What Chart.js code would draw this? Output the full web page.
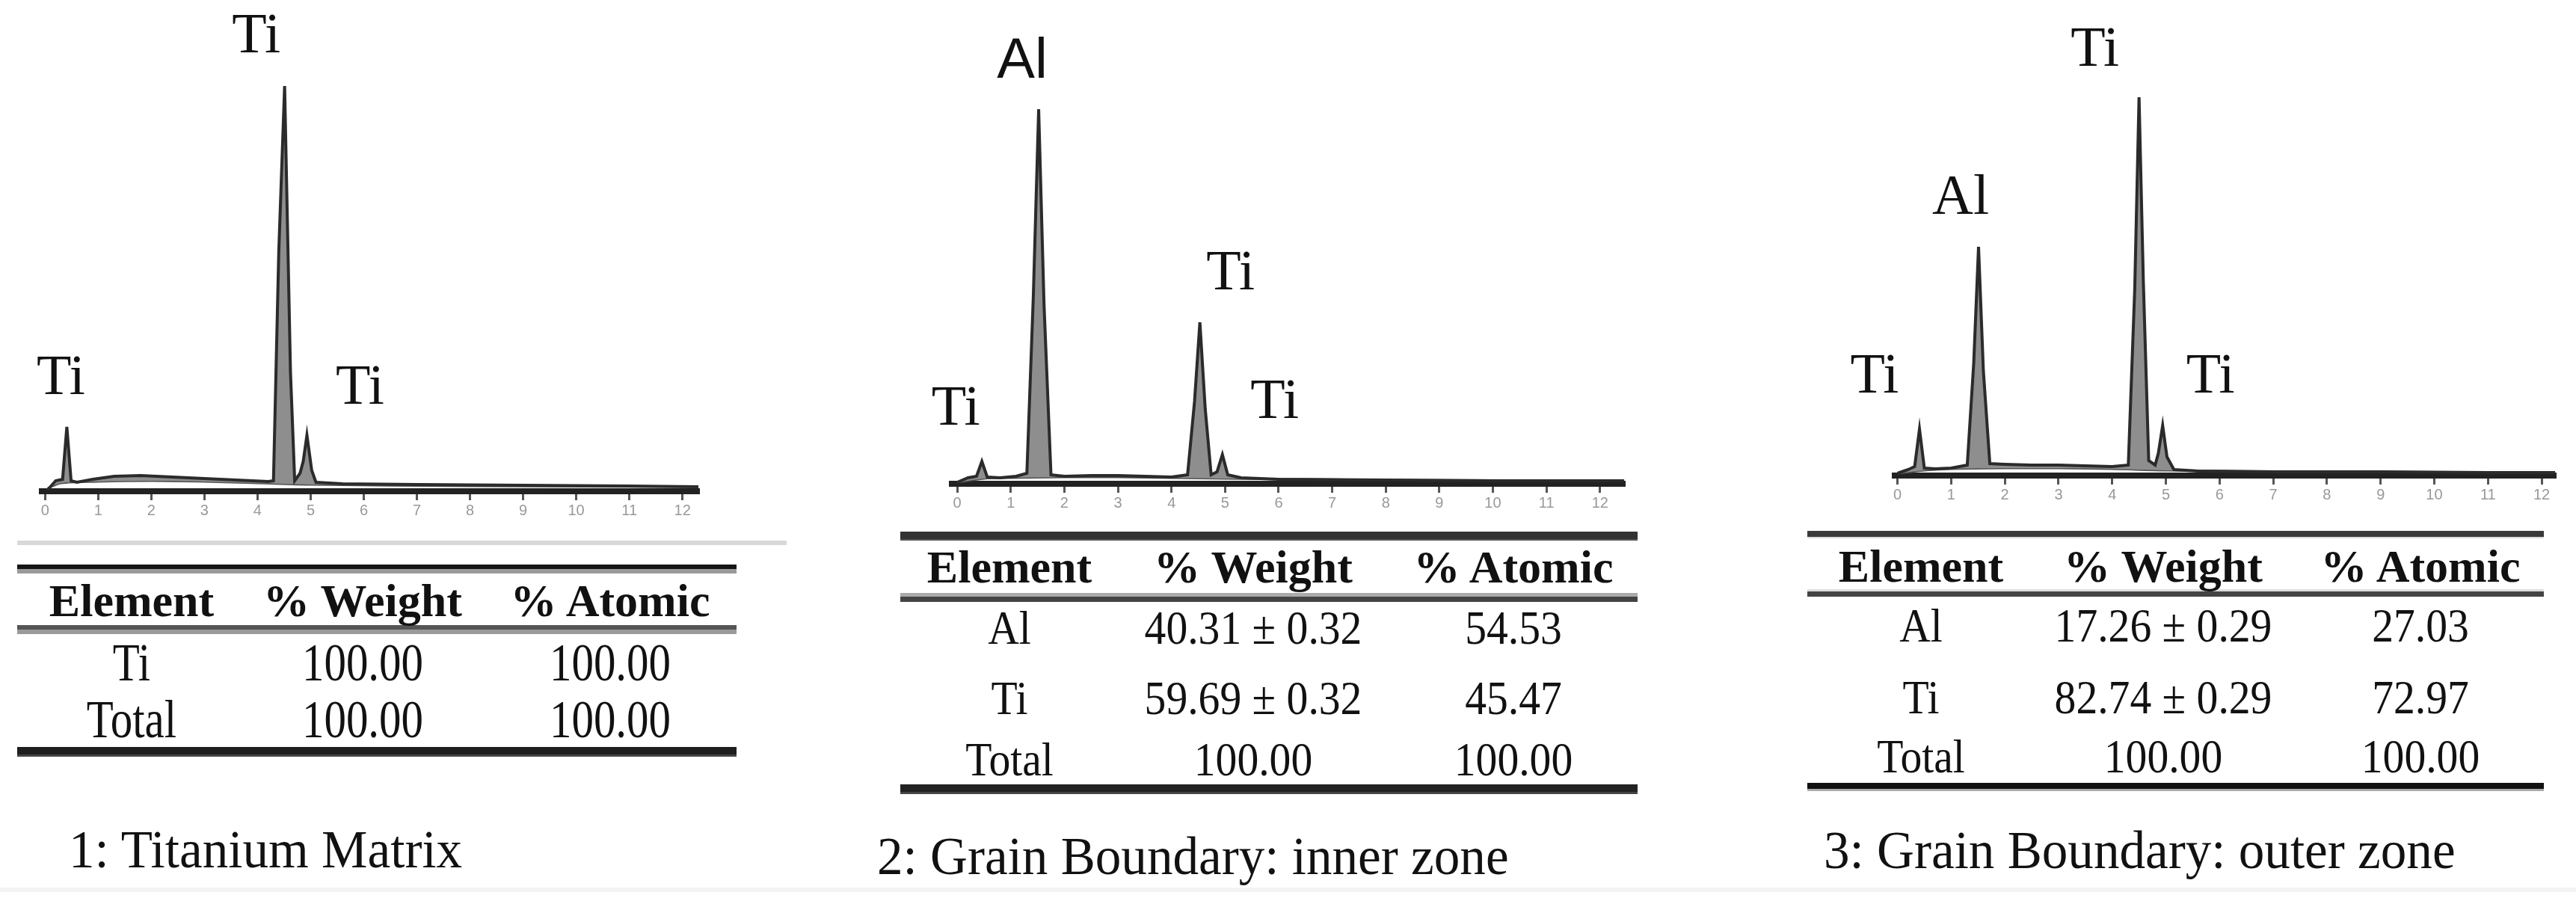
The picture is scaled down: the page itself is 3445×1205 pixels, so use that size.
<!DOCTYPE html>
<html>
<head>
<meta charset="utf-8">
<script src="https://cdn.jsdelivr.net/npm/chart.js@4.4.1/dist/chart.umd.min.js"></script>
<style>
  html, body { margin: 0; padding: 0; background: #fff; }
  #page { position: relative; width: 3445px; height: 1205px; overflow: hidden; background: #fff;
          font-family: 'Liberation Serif', 'Times New Roman', serif; color: #111; }
  canvas { position: absolute; top: 0; }
  .rule { position: absolute; }
  .txt { position: absolute; white-space: nowrap; }
</style>
</head>
<body>
<div id="page">
  <canvas id="spec1"></canvas>
  <canvas id="spec2"></canvas>
  <canvas id="spec3"></canvas>
</div>
<script>
const energyTicks = [0, 1, 2, 3, 4, 5, 6, 7, 8, 9, 10, 11, 12];

const energy1 = [0.05, 0.2, 0.33, 0.41, 0.49, 0.6, 0.9, 1.3, 1.8, 2.4, 3.0, 3.6, 4.2, 4.3, 4.40, 4.51, 4.62, 4.7, 4.8, 4.86, 4.93, 5.02, 5.1, 5.6, 7, 9, 11, 12.3];
const counts1 = [2, 14, 16, 86, 14, 12, 16, 20, 21, 19, 17, 15, 13, 14, 320, 542, 160, 14, 24, 40, 75, 28, 12, 10, 9, 8, 7, 6];
const bkgEnergy1 = [0.05, 0.3, 1.0, 2.0, 3.0, 4.0, 5.0, 8.0, 12.3];
const bkgCounts1 = [4, 11, 13, 14, 13, 11, 9, 7, 6];

const energy2 = [0.0, 0.2, 0.36, 0.46, 0.56, 0.8, 1.1, 1.3, 1.42, 1.52, 1.62, 1.75, 2.0, 2.5, 3.0, 3.5, 4.0, 4.3, 4.43, 4.53, 4.63, 4.74, 4.85, 4.95, 5.05, 5.3, 6, 8, 10, 12.45];
const counts2 = [2, 8, 10, 30, 9, 8, 10, 14, 250, 501, 240, 12, 10, 11, 11, 10, 9, 12, 110, 216, 100, 12, 16, 39, 12, 8, 6, 5, 4, 4];
const bkgEnergy2 = [0.0, 0.5, 1.0, 2.0, 3.0, 4.0, 5.0, 8.0, 12.45];
const bkgCounts2 = [2, 7, 8, 9, 9, 8, 7, 5, 4];

const energy3 = [0.0, 0.2, 0.32, 0.41, 0.5, 0.7, 1.0, 1.3, 1.42, 1.51, 1.6, 1.72, 2.0, 2.5, 3.0, 3.5, 4.0, 4.3, 4.42, 4.5, 4.58, 4.68, 4.8, 4.86, 4.94, 5.02, 5.15, 5.6, 7, 9, 11, 12.25];
const counts3 = [3, 8, 12, 62, 10, 9, 10, 14, 150, 306, 140, 16, 15, 14, 14, 13, 12, 14, 250, 506, 260, 20, 14, 30, 67, 25, 8, 6, 5, 5, 4, 4];
const bkgEnergy3 = [0.0, 0.5, 1.0, 2.0, 3.0, 4.0, 5.0, 8.0, 12.25];
const bkgCounts3 = [3, 7, 9, 10, 10, 9, 7, 5, 4];

// Étiquettes des pics
const peakNames1 = ['Ti', 'Ti', 'Ti'];
const peakEnergy1 = [0.41, 4.51, 4.93];
const peakNames2 = ['Ti', 'Al', 'Ti', 'Ti'];
const peakEnergy2 = [0.46, 1.52, 4.53, 4.95];
const peakNames3 = ['Ti', 'Al', 'Ti', 'Ti'];
const peakEnergy3 = [0.41, 1.51, 4.5, 4.94];

// Tableaux
const tableHeader = ['Element', '% Weight', '% Atomic'];
const elements1 = ['Ti', 'Total'];
const weight1 = ['100.00', '100.00'];
const atomic1 = ['100.00', '100.00'];
const elements2 = ['Al', 'Ti', 'Total'];
const weight2 = ['40.31 ± 0.32', '59.69 ± 0.32', '100.00'];
const atomic2 = ['54.53', '45.47', '100.00'];
const elements3 = ['Al', 'Ti', 'Total'];
const weight3 = ['17.26 ± 0.29', '82.74 ± 0.29', '100.00'];
const atomic3 = ['27.03', '72.97', '100.00'];
const captions = ['1: Titanium Matrix', '2: Grain Boundary: inner zone', '3: Grain Boundary: outer zone'];

// Mise en page (pixels)
const serif = "'Liberation Serif', 'Times New Roman', serif";
const sans = "'Liberation Sans', Arial, sans-serif";
const AXIS_H = 50;
const PAD_L = 80, PAD_R = 20;

const panels = [
    { id: 'spec1', x0: 60, pxPerKeV: 71, padTop: 93, bottom: 657, xMin: -0.06, xMax: 12.3,
      energy: energy1, counts: counts1, bkgE: bkgEnergy1, bkgC: bkgCounts1,
      names: peakNames1, peaks: peakEnergy1,
      offsets: [[-8, -64], [-38, -65], [71, -62]], fonts: [serif, serif, serif] },
    { id: 'spec2', x0: 1280, pxPerKeV: 71.6, padTop: 123, bottom: 647, xMin: -0.1, xMax: 12.45,
      energy: energy2, counts: counts2, bkgE: bkgEnergy2, bkgC: bkgCounts2,
      names: peakNames2, peaks: peakEnergy2,
      offsets: [[-35, -69], [-22, -63], [41, -64], [70, -69]], fonts: [serif, sans, serif, serif] },
    { id: 'spec3', x0: 2538, pxPerKeV: 71.8, padTop: 112, bottom: 636, xMin: -0.05, xMax: 12.25,
      energy: energy3, counts: counts3, bkgE: bkgEnergy3, bkgC: bkgCounts3,
      names: peakNames3, peaks: peakEnergy3,
      offsets: [[-60, -69], [-24, -64], [-59, -62], [64, -64]], fonts: [serif, serif, serif, serif] }
];

// Plugin : étiquettes au-dessus des pics
const peakLabels = {
    id: 'peakLabels',
    afterDatasetsDraw(chart, args, opts) {
        const ctx = chart.ctx;
        const xs = chart.scales.x, ys = chart.scales.y;
        const data = chart.data.datasets[0].data;
        ctx.save();
        ctx.fillStyle = '#111';
        ctx.textAlign = 'center';
        ctx.textBaseline = 'middle';
        opts.names.forEach((name, i) => {
            const pt = data.find(p => Math.abs(p.x - opts.peaks[i]) < 1e-6);
            if (!pt) return;
            ctx.font = '76px ' + opts.fonts[i];
            const px = xs.getPixelForValue(pt.x) + opts.offsets[i][0];
            const py = ys.getPixelForValue(pt.y) + opts.offsets[i][1];
            ctx.fillText(name, px, py);
        });
        ctx.restore();
    }
};

panels.forEach(p => {
    const canvas = document.getElementById(p.id);
    const w = Math.round((p.xMax - p.xMin) * p.pxPerKeV) + PAD_L + PAD_R;
    const h = p.bottom + AXIS_H;
    const left = Math.round(p.x0 + p.xMin * p.pxPerKeV) - PAD_L;
    canvas.width = w;
    canvas.height = h;
    canvas.style.left = left + 'px';
    canvas.style.width = w + 'px';
    canvas.style.height = h + 'px';

    new Chart(canvas.getContext('2d'), {
        type: 'line',
        data: {
            datasets: [
                {
                    data: p.energy.map((e, i) => ({ x: e, y: p.counts[i] })),
                    borderColor: '#2b2b2b',
                    borderWidth: 4,
                    pointRadius: 0,
                    tension: 0,
                    fill: { target: 1 },
                    backgroundColor: '#8e8e8e'
                },
                {
                    data: p.bkgE.map((e, i) => ({ x: e, y: p.bkgC[i] })),
                    borderColor: '#555',
                    borderWidth: 3,
                    pointRadius: 0,
                    tension: 0.3,
                    fill: false
                }
            ]
        },
        options: {
            responsive: false,
            animation: false,
            events: [],
            layout: { padding: { top: p.padTop, left: PAD_L, right: PAD_R, bottom: 0 } },
            plugins: {
                legend: { display: false },
                tooltip: { enabled: false },
                filler: { propagate: false },
                peakLabels: { names: p.names, peaks: p.peaks, offsets: p.offsets, fonts: p.fonts }
            },
            scales: {
                x: {
                    type: 'linear',
                    min: p.xMin,
                    max: p.xMax,
                    afterBuildTicks: scale => { scale.ticks = energyTicks.map(v => ({ value: v })); },
                    afterFit: scale => { scale.height = AXIS_H; },
                    border: { display: true, color: '#222', width: 8 },
                    grid: { display: true, drawOnChartArea: false, drawTicks: true, tickLength: 12, color: '#555', lineWidth: 3 },
                    ticks: { font: { size: 20, family: sans }, color: '#999', padding: 2, maxRotation: 0, autoSkip: false }
                },
                y: {
                    display: false,
                    min: 0,
                    max: p.bottom - p.padTop
                }
            }
        },
        plugins: [peakLabels]
    });
});

// Tableaux et légendes
const tableLayouts = [
    { left: 23, right: 985, top: 755, mid: 836, bottom: 999, header: 803, rows: [886, 962], cols: [176, 485, 816],
      bodySize: 71, bodyScale: 0.83, capLeft: 92, capY: 1136,
      topRule: ['#151515', 6, '#9a9a9a', 6], midRule: ['#555', 6, '#9a9a9a', 6], botRule: ['#1e1e1e', 10, '#444', 3] },
    { left: 1204, right: 2190, top: 711, mid: 793, bottom: 1049, header: 758, rows: [840, 934, 1016], cols: [1350, 1676, 2024],
      bodySize: 64, bodyScale: 0.9, capLeft: 1173, capY: 1145,
      topRule: ['#333', 10, '#555', 2], midRule: ['#aaa', 5, '#444', 7], botRule: ['#222', 10, '#444', 3] },
    { left: 2417, right: 3402, top: 710, mid: 788, bottom: 1047, header: 757, rows: [837, 933, 1012], cols: [2569, 2893, 3237],
      bodySize: 64, bodyScale: 0.9, capLeft: 2439, capY: 1137,
      topRule: ['#3a3a3a', 8, '#ddd', 2], midRule: ['#ddd', 3, '#444', 7], botRule: ['#111', 8, '#aaa', 3] }
];
const tableData = [
    [elements1, weight1, atomic1],
    [elements2, weight2, atomic2],
    [elements3, weight3, atomic3]
];

const page = document.getElementById('page');

function addRule(left, right, top, style) {
    const d = document.createElement('div');
    d.className = 'rule';
    d.style.left = left + 'px';
    d.style.width = (right - left) + 'px';
    d.style.top = top + 'px';
    d.style.height = '0px';
    d.style.borderTop = style[1] + 'px solid ' + style[0];
    d.style.borderBottom = style[3] + 'px solid ' + style[2];
    page.appendChild(d);
}

function addText(text, x, y, size, weight, scaleX, align) {
    const d = document.createElement('div');
    d.className = 'txt';
    d.textContent = text;
    d.style.fontSize = size + 'px';
    d.style.lineHeight = size + 'px';
    d.style.fontWeight = weight;
    d.style.top = (y - size / 2) + 'px';
    d.style.left = x + 'px';
    if (align === 'center') {
        d.style.transform = 'translateX(-50%) scaleX(' + scaleX + ')';
    } else {
        d.style.transformOrigin = 'left center';
        d.style.transform = 'scaleX(' + scaleX + ')';
    }
    page.appendChild(d);
}

tableLayouts.forEach((t, k) => {
    addRule(t.left, t.right, t.top, t.topRule);
    addRule(t.left, t.right, t.mid, t.midRule);
    addRule(t.left, t.right, t.bottom, t.botRule);
    tableHeader.forEach((h, c) => addText(h, t.cols[c], t.header, 62, 'bold', 1, 'center'));
    const cols = tableData[k];
    t.rows.forEach((y, r) => {
        cols.forEach((col, c) => addText(col[r], t.cols[c], y, t.bodySize, 'normal', t.bodyScale, 'center'));
    });
    addText(captions[k], t.capLeft, t.capY, 72, 'normal', 0.96, 'left');
});

// Lignes grises claires
const sep = document.createElement('div');
sep.style.cssText = 'position:absolute;left:23px;top:723px;width:1029px;height:6px;background:#d8d8d8;';
page.appendChild(sep);
const foot = document.createElement('div');
foot.style.cssText = 'position:absolute;left:0;top:1187px;width:3445px;height:6px;background:#f3f3f3;';
page.appendChild(foot);
</script>
</body>
</html>
